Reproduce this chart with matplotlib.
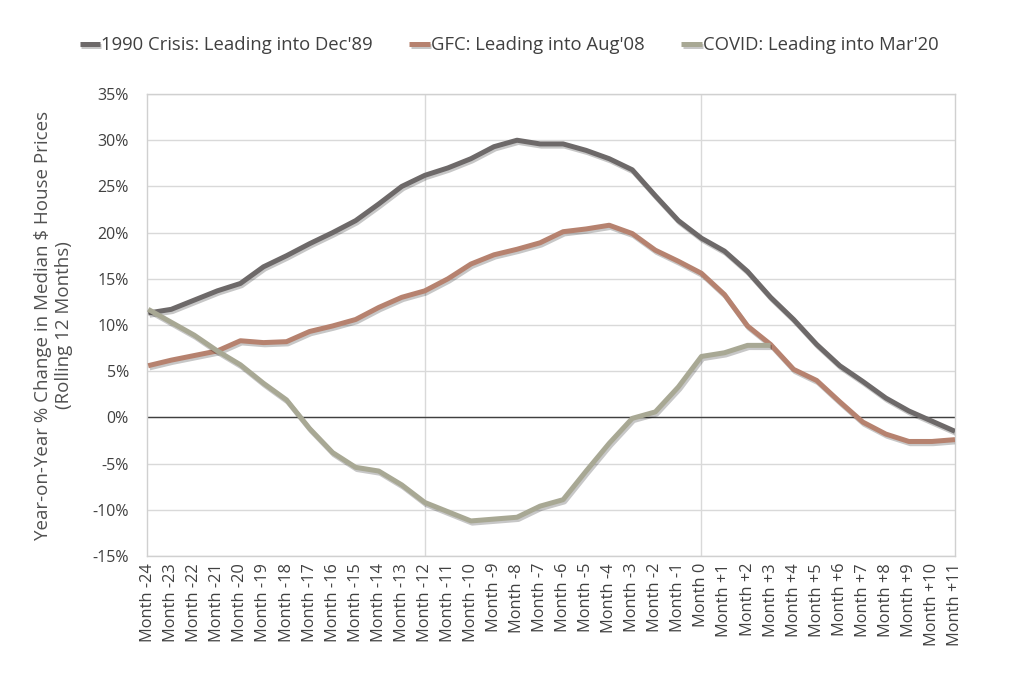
import numpy as np
import matplotlib
matplotlib.use("Agg")
import matplotlib.pyplot as plt
import matplotlib.patheffects as pe
from matplotlib.ticker import FuncFormatter

plt.rcParams['font.family'] = ['Open Sans', 'DejaVu Sans']

# month labels
months = ["Month %+d" % m if m != 0 else "Month 0" for m in range(-24, 12)]

# year-on-year % change
crisis_1990 = [11.3, 11.7, 12.7, 13.7, 14.5, 16.3, 17.5, 18.8, 20.0, 21.3, 23.1, 25.0,
               26.2, 27.0, 28.0, 29.3, 30.0, 29.6, 29.6, 28.9, 28.0, 26.8, 24.0, 21.3,
               19.4, 18.0, 15.8, 13.0, 10.6, 7.9, 5.6, 3.9, 2.1, 0.7, -0.4, -1.5]
gfc = [5.6, 6.2, 6.7, 7.2, 8.3, 8.1, 8.2, 9.3, 9.9, 10.6, 11.9, 13.0,
       13.7, 15.0, 16.6, 17.6, 18.2, 18.9, 20.1, 20.4, 20.8, 19.9, 18.1, 16.9,
       15.6, 13.3, 9.9, 7.9, 5.2, 4.0, 1.7, -0.5, -1.8, -2.6, -2.6, -2.4]
covid = [11.7, 10.3, 8.9, 7.2, 5.7, 3.7, 1.9, -1.2, -3.8, -5.4, -5.8, -7.3,
         -9.2, -10.2, -11.2, -11.0, -10.8, -9.6, -8.9, -5.8, -2.8, -0.1, 0.6, 3.3,
         6.6, 7.0, 7.8, 7.8]

labels = ["1990 Crisis: Leading into Dec'89", "GFC: Leading into Aug'08",
          "COVID: Leading into Mar'20"]
colors = ["#6d6969", "#b6826f", "#a8a894"]

fig = plt.figure(figsize=(10.24, 6.74), dpi=100)
ax = fig.add_axes([0.1436, 0.175, 0.789, 0.6855])

x = np.arange(len(months))
shadow = [pe.SimpleLineShadow(offset=(1.0, -1.6), shadow_color="#000000", alpha=0.22), pe.Normal()]
for ys, c, lab in zip([crisis_1990, gfc, covid], colors, labels):
    ax.plot(x[:len(ys)], ys, color=c, lw=3.6, label=lab, solid_capstyle="butt",
            path_effects=shadow, zorder=3)

ax.set_xlim(-0.05, len(months) - 1)
ax.set_ylim(-15, 35)
ax.set_yticks(np.arange(-15, 36, 5))
ax.yaxis.set_major_formatter(FuncFormatter(lambda v, p: "%d%%" % v))
ax.set_xticks(x)
ax.set_xticklabels(months, rotation=90, fontsize=11.8, color="#404040")
ax.tick_params(axis="y", labelsize=11.5, colors="#404040", length=0, pad=13)
ax.tick_params(axis="x", length=0, pad=5)

for yv in np.arange(-15, 36, 5):
    ax.axhline(yv, color="#d9d9d9", lw=1.0, zorder=1)
ax.axhline(0, color="#404040", lw=1.0, zorder=2)
for xv in [12, 24]:
    ax.axvline(xv, color="#d9d9d9", lw=1.0, zorder=1)

for s in ax.spines.values():
    s.set_color("#d0d0d0")
    s.set_linewidth(1.0)

ax.set_ylabel("Year-on-Year % Change in Median $ House Prices\n(Rolling 12 Months)",
              fontsize=13.5, color="#505050", labelpad=14, linespacing=1.25)

leg = fig.legend(loc="center", bbox_to_anchor=(0.497, 0.933), ncol=3, frameon=False,
                 fontsize=13.3, handlelength=1.1, handletextpad=0.05, columnspacing=2.0)
for t in leg.get_texts():
    t.set_color("#404040")

fig.savefig("out.png", dpi=100)
